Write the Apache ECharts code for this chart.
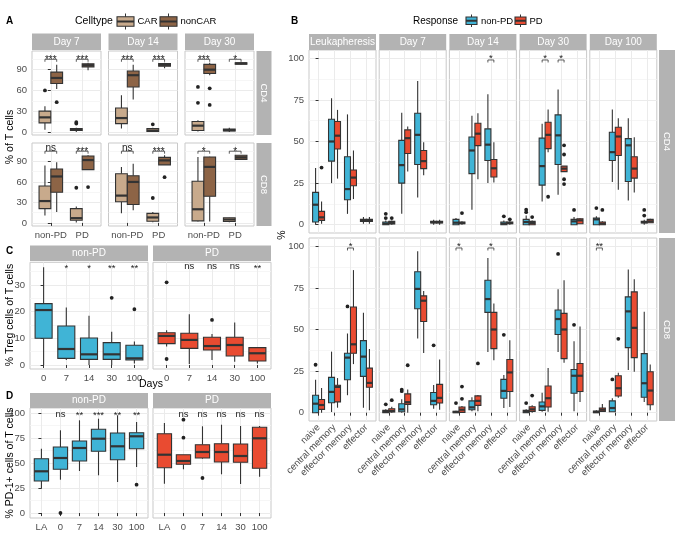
<!DOCTYPE html>
<html>
<head>
<meta charset="utf-8">
<script src="https://cdn.jsdelivr.net/npm/echarts@6/dist/echarts.min.js"></script>
<style>
  html, body { margin: 0; padding: 0; background: #fff; }
  #chart { width: 676px; height: 541px; }
</style>
</head>
<body>
<div id="chart"></div>
<script>
// ---------- data ----------
// boxes are [min, q1, median, q3, max]
// panel A: per day -> [non-PD, PD]
var aDays = ['Day 7', 'Day 14', 'Day 30'];
var aGroups = ['non-PD', 'PD'];
var aCD4CAR = [
  [[3, 13, 21, 30, 37], [0, 2, 3, 5, 6]],
  [[5, 12, 20, 34.5, 53], [0, 0.5, 2, 5, 6]],
  [[0.5, 2, 9, 15, 17], [0, 1.5, 2.5, 4, 6]]
];
var aCD4nonCAR = [
  [[62, 70, 78, 86.5, 97], [89, 94, 96.5, 98.5, 100]],
  [[47, 65, 82, 88, 97], [92, 95, 97, 99, 100]],
  [[82, 84.5, 90, 97.7, 100], [97, 98, 99, 100, 100.5]]
];
var aCD4CAROut = [[[60], [12, 14]], [[], [11]], [[42, 65], []]];
var aCD4nonCAROut = [[[43], []], [[], []], [[39, 63], []]];
var aCD8CAR = [
  [[11, 21, 32, 54, 84], [0.5, 4, 7, 21, 24]],
  [[14, 31, 40, 72, 82], [1, 2.4, 8, 14, 16]],
  [[2, 3, 20, 61, 96.5], [1, 2, 5, 7.5, 8]]
];
var aCD8nonCAR = [
  [[16, 45, 68, 79, 89], [78, 78, 92, 98, 99]],
  [[18.5, 27, 60, 69, 86.5], [85, 85, 91.5, 96, 99]],
  [[2, 39, 82, 96.5, 97], [93, 93, 96, 99, 99]]
];
var aCD8CAROut = [[[], [51.5]], [[], [36.5]], [[], []]];
var aCD8nonCAROut = [[[], [52.5]], [[], [67]], [[], []]];
var aCD4Sig = [['***', '***'], ['***', '***'], ['***', '*']];
var aCD8Sig = [['ns', '***'], ['ns', '***'], ['*', '*']];

// panel C: Treg
var cDays = ['0', '7', '14', '30', '100'];
var cNonPD = [[0, 10, 20.6, 23, 36.6], [1.9, 2.5, 6, 14.6, 21.6], [0, 2.1, 4, 10.1, 18.5], [0, 2.1, 4, 8.4, 12.5], [0.6, 1.9, 2.5, 7.4, 8.8]];
var cNonPDOut = [[], [], [], [25.2], [20.9]];
var cPD = [[6.9, 8, 10.9, 12.1, 13], [0.4, 6.25, 9.4, 11.9, 19], [1.9, 5.6, 7.1, 10.4, 11.6], [1.25, 3.4, 7.5, 10.4, 15.9], [0.6, 1.5, 4.4, 6.5, 6.5]];
var cPDOut = [[31, 2.25], [], [16.9], [], []];
var cSigNonPD = ['', '*', '*', '**', '**'];
var cSigPD = ['', 'ns', 'ns', 'ns', '**'];

// panel D: PD-1+
var dDays = ['LA', '0', '7', '14', '30', '100'];
var dNonPD = [[24.3, 32, 41.7, 54.3, 64.3], [33.3, 43.7, 55, 66, 82.7], [42, 52, 65, 72, 92.7], [37.7, 61.7, 74.3, 83.7, 94.3], [31, 53.3, 66.7, 80, 97.7], [46, 64.3, 76.7, 80.3, 91]];
var dNonPDOut = [[], [0], [], [], [], [28.3]];
var dPD = [[29.3, 45.3, 58.3, 79.3, 90], [43.7, 48.7, 52, 58.3, 58.3], [54.3, 55, 61, 68.3, 86.7], [38.7, 51, 61, 69.3, 88.3], [29, 50.7, 57, 69, 87], [36.3, 44.7, 74.7, 85.7, 87]];
var dPDOut = [[], [93.3, 75.3], [35], [], [], []];
var dSigNonPD = ['', 'ns', '**', '***', '**', '**'];
var dSigPD = ['', 'ns', 'ns', 'ns', 'ns', 'ns'];

// panel B: subsets per timepoint
var bDays = ['Leukapheresis', 'Day 7', 'Day 14', 'Day 30', 'Day 100'];
var bTypes = ['naive', 'central memory', 'effector memory', 'effector'];
var b4NonPD = [
  [[0, 1.6, 12, 19.4, 34], [25, 38.2, 50, 63.4, 76], [6.5, 15, 21.4, 40.8, 66.3], [0.6, 2, 2.6, 3.2, 4.6]],
  [[0, 0, 0.6, 1.6, 2.5], [6.5, 25, 35.8, 50.7, 67.3], [16.4, 36.2, 54, 67, 86.3], [0, 1, 1.5, 2, 3]],
  [[0, 0, 1.2, 3.2, 4], [9, 30.7, 44.6, 52.7, 65.5], [25, 38.6, 48.1, 57.6, 78.4], [0, 0, 0.6, 1.6, 2.5]],
  [[0, 0, 1.6, 3.2, 5.5], [13.9, 23.8, 35.2, 52, 60.6], [18, 36.2, 53.7, 66, 81.2], [0, 0, 2, 3.2, 4.6]],
  [[0, 0, 3.2, 4, 5], [25.7, 38.6, 43.6, 55.6, 69.3], [14.5, 26, 47.7, 51.7, 64], [0, 1, 1.5, 2, 3]]
];
var b4NonPDOut = [
  [[], [], [], []],
  [[6.5, 4], [], [], []],
  [[], [], [], [5]],
  [[9, 7.5], [], [], [8.9]],
  [[10], [], [], [8.9, 5.5]]
];
var b4PD = [
  [[0.6, 2.6, 4.4, 8, 14], [27.7, 45.5, 53.5, 62, 69], [15.4, 23.4, 28.3, 32.9, 44.6], [0.6, 2, 2.6, 3.2, 4.6]],
  [[0, 0.5, 1, 2, 2.5], [31.9, 42.8, 52, 57, 59], [29.7, 33.7, 38.2, 44.6, 49.5], [0, 1, 1.5, 2, 3]],
  [[0, 0.6, 1, 1.6, 2], [27.3, 47.5, 54.7, 61, 67], [25.3, 28.7, 33.9, 39.2, 49.5], [0, 0.6, 1, 1.6, 2]],
  [[0, 0, 1, 2, 2.5], [43.6, 45.7, 54, 61.6, 69.3], [31.9, 31.9, 33.7, 35.2, 35.2], [0.6, 0.6, 2.6, 3.6, 4]],
  [[0, 0, 0.6, 1.6, 2], [21, 41.6, 53, 58.6, 64], [19.4, 28, 33.7, 40.8, 52.5], [1.2, 1.2, 2, 3.2, 3.5]]
];
var b4PDOut = [
  [[34.3], [], [], []],
  [[4], [], [], []],
  [[7], [], [], [3.2]],
  [[4.6], [16.8], [47.7, 42.2, 27.3, 24.4], []],
  [[8.9], [], [], []]
];
var b8NonPD = [
  [[0, 0, 5.4, 10.5, 19.8], [0.4, 6, 12.5, 21.2, 36.7], [10.5, 19.8, 33.1, 35.7, 47.6], [3, 21.8, 33.7, 43.3, 60.1]],
  [[0, 0, 0.5, 1.4, 2], [0, 0.6, 2, 5.4, 8], [44.6, 62.5, 74.4, 84.7, 97], [2.4, 4.8, 7.1, 12.1, 16.7]],
  [[0, 0, 0.4, 0.8, 1.2], [0.8, 1.8, 3.2, 7.1, 9.3], [36.5, 60.3, 68.3, 79.6, 93], [2.8, 8.7, 13.1, 20, 22.6]],
  [[0, 0, 0.6, 1.4, 2], [0.5, 1.4, 3.8, 6.4, 12], [36.5, 47, 56.3, 61.7, 74.2], [0.8, 11.7, 22.2, 26, 42.9]],
  [[0, 0, 0.4, 1, 1.5], [0.6, 0.6, 2.8, 7.1, 8.7], [25.6, 39.1, 60.9, 69.6, 86.1], [6.4, 9.3, 17.7, 35.5, 60.7]]
];
var b8NonPDOut = [
  [[28.8], [], [63.9], []],
  [[5], [13.9, 12.9], [], [40.5]],
  [[5.8], [], [], [46.8]],
  [[5.8], [], [95.4], [52.8]],
  [[], [20], [], []]
];
var b8PD = [
  [[0, 2, 4.6, 7.9, 14.9], [3, 6.5, 15.5, 16.5, 20.8], [29.2, 35.7, 41.1, 63.5, 85.7], [1.4, 15.3, 17.9, 26.8, 38.3]],
  [[0, 0.4, 1, 2.4, 3.5], [0, 5, 6.3, 11.3, 13.9], [35.9, 54.8, 67.3, 70.2, 73.2], [1.8, 5.8, 8.9, 17, 32]],
  [[0, 0.2, 1.8, 3.4, 4], [0.8, 4.4, 7.1, 10.1, 10.7], [31.5, 38.5, 50, 60.3, 65.7], [3.4, 12.7, 24.2, 32, 43.5]],
  [[0, 0.8, 2, 3.6, 4.5], [0.6, 3.4, 8.7, 16, 26.8], [30, 32.5, 50, 59.7, 79.6], [6.4, 12.7, 22.2, 29.6, 51.8]],
  [[0.5, 0.8, 1.8, 2.8, 5.2], [9, 10, 14.7, 22.2, 24], [24.6, 33.1, 51, 72.6, 80.2], [1.4, 4.8, 13.3, 24.6, 29]]
];
var b8PDOut = [
  [[], [], [], []],
  [[7.5], [28.5], [], []],
  [[15.7, 8.3], [29.6], [], []],
  [[10.3], [], [], []],
  [[], [44.4], [], []]
];
var b4Sig = [[], [], [[2, '*']], [[1, '*'], [2, '*']], []];
var b8Sig = [[[2, '*']], [], [[0, '*'], [2, '*']], [], [[0, '**']]];

// ---------- styling ----------
var FONT = 'Liberation Sans, Arial, Helvetica, sans-serif';
var TXT = '#4d4d4d';
var LINE = '#333333';
var STRIP = '#b3b3b3';
var colCAR = '#c8aa8c', colNonCAR = '#8d6446';
var colNonPD = '#40b4d6', colPD = '#e94b31';

var grids = [], xAxes = [], yAxes = [], series = [], graphics = [];

function addPanel(left, top, width, height, cats, yr, ticks, minor, showX, showY, rot) {
  var gi = grids.length;
  var idx = cats.map(function (c, i) { return i; });
  grids.push({
    left: left, top: top, width: width, height: height, show: true,
    backgroundColor: '#ffffff', borderColor: '#c9c9c9', borderWidth: 1,
    containLabel: false, outerBoundsMode: 'none'
  });
  xAxes.push({
    type: 'value', gridIndex: gi, min: -0.6, max: cats.length - 0.4,
    axisLine: { show: false },
    axisTick: { show: showX, customValues: idx, length: 3, lineStyle: { color: LINE } },
    axisLabel: {
      show: showX, customValues: idx, rotate: rot || 0, margin: rot ? 5 : 4,
      color: TXT, fontSize: 9.5, fontFamily: FONT,
      formatter: function (v) { return cats[Math.round(v)]; }
    },
    splitLine: { show: true, lineStyle: { color: '#ebebeb', width: 1 } }
  });
  var yi = yAxes.length;
  yAxes.push({
    type: 'value', gridIndex: gi, min: yr[0], max: yr[1], position: 'left',
    axisLine: { show: false },
    axisTick: { show: showY, customValues: ticks, length: 3, lineStyle: { color: LINE } },
    axisLabel: { show: showY, customValues: ticks, margin: 5, color: TXT, fontSize: 9.5, fontFamily: FONT },
    splitLine: { show: true, lineStyle: { color: '#ebebeb', width: 1 } }
  });
  yAxes.push({
    type: 'value', gridIndex: gi, min: yr[0], max: yr[1], position: 'left',
    axisLine: { show: false },
    axisTick: { show: false, customValues: minor },
    axisLabel: { show: false, customValues: minor },
    splitLine: { show: true, lineStyle: { color: '#f4f4f4', width: 0.8 } }
  });
  return { x: gi, y: yi };
}

function boxSeries(p, boxes, dodge, halfW, color) {
  var data = boxes.map(function (b, i) { return [i].concat(b); });
  return {
    type: 'custom', xAxisIndex: p.x, yAxisIndex: p.y, data: data, silent: true, clip: false,
    renderItem: function (params, api) {
      var x = api.value(0) + dodge;
      var lo = api.coord([x, api.value(1)]);
      var q1 = api.coord([x, api.value(2)]);
      var md = api.coord([x, api.value(3)]);
      var q3 = api.coord([x, api.value(4)]);
      var hi = api.coord([x, api.value(5)]);
      var l = api.coord([x - halfW, 0])[0], r = api.coord([x + halfW, 0])[0];
      var st = { stroke: LINE, lineWidth: 1.1 };
      return {
        type: 'group', children: [
          { type: 'line', shape: { x1: lo[0], y1: lo[1], x2: q1[0], y2: q1[1] }, style: st },
          { type: 'line', shape: { x1: q3[0], y1: q3[1], x2: hi[0], y2: hi[1] }, style: st },
          { type: 'rect', shape: { x: l, y: q3[1], width: r - l, height: Math.max(q1[1] - q3[1], 0.5) },
            style: { fill: color, stroke: LINE, lineWidth: 1.1 } },
          { type: 'line', shape: { x1: l, y1: md[1], x2: r, y2: md[1] }, style: { stroke: LINE, lineWidth: 2.2 } }
        ]
      };
    }
  };
}

function outSeries(p, outs, dodge) {
  var data = [];
  outs.forEach(function (vals, i) { vals.forEach(function (v) { data.push([i, v]); }); });
  return {
    type: 'custom', xAxisIndex: p.x, yAxisIndex: p.y, data: data, silent: true, clip: false,
    renderItem: function (params, api) {
      var c = api.coord([api.value(0) + dodge, api.value(1)]);
      return { type: 'circle', shape: { cx: c[0], cy: c[1], r: 1.9 }, style: { fill: '#222' } };
    }
  };
}

// significance bracket between the two dodged boxes of a category
function bracketSeries(p, items, level, d, fs, starShift) {
  var data = items.map(function (s) { return [s[0], level]; });
  return {
    type: 'custom', xAxisIndex: p.x, yAxisIndex: p.y, data: data, silent: true, clip: false,
    renderItem: function (params, api) {
      var lab = items[params.dataIndex][1];
      var a = api.coord([api.value(0) - d, api.value(1)]);
      var b = api.coord([api.value(0) + d, api.value(1)]);
      var ty = lab.charAt(0) === '*' ? a[1] + starShift : a[1] - 3;
      return {
        type: 'group', children: [
          { type: 'polyline', shape: { points: [[a[0], a[1] + 2.5], [a[0], a[1]], [b[0], b[1]], [b[0], b[1] + 2.5]] },
            style: { stroke: LINE, lineWidth: 0.8, fill: null } },
          { type: 'text', x: (a[0] + b[0]) / 2, y: ty,
            style: { text: lab, fill: '#222', fontSize: fs, fontFamily: FONT, align: 'center', verticalAlign: 'middle' } }
        ]
      };
    }
  };
}

function textSeries(p, labels, level) {
  var data = [], texts = [];
  labels.forEach(function (t, i) { if (t) { data.push([i, level]); texts.push(t); } });
  return {
    type: 'custom', xAxisIndex: p.x, yAxisIndex: p.y, data: data, silent: true, clip: false,
    renderItem: function (params, api) {
      var c = api.coord([api.value(0), api.value(1)]);
      var t = texts[params.dataIndex];
      return { type: 'text', x: c[0], y: t.charAt(0) === '*' ? c[1] + 1.5 : c[1],
        style: { text: t, fill: '#222', fontSize: 9.5, fontFamily: FONT, align: 'center', verticalAlign: 'middle' } };
    }
  };
}

function label(x, y, text, o) {
  o = o || {};
  graphics.push({
    type: 'text', x: x, y: y, rotation: o.rot || 0, silent: true, z: 10,
    style: {
      text: text, fill: o.color || '#000', fontSize: o.size || 10, fontWeight: o.weight || 'normal',
      fontFamily: FONT, align: o.align || 'left', textAlign: o.align || 'left',
      verticalAlign: 'middle', textVerticalAlign: 'middle'
    }
  });
}

function strip(x, y, w, h, text, vertical) {
  graphics.push({ type: 'rect', silent: true, shape: { x: x, y: y, width: w, height: h }, style: { fill: STRIP } });
  label(x + w / 2, y + h / 2, text, { color: '#ffffff', size: vertical ? 9.5 : 10, align: 'center', rot: vertical ? -Math.PI / 2 : 0 });
}

function keyGlyph(x, y, w, h, fill) {
  var cx = x + w / 2, b0 = y + h * 0.2, b1 = y + h * 0.8, m = y + h / 2;
  graphics.push({ type: 'line', silent: true, shape: { x1: cx, y1: y, x2: cx, y2: y + h }, style: { stroke: LINE, lineWidth: 1 } });
  graphics.push({ type: 'rect', silent: true, shape: { x: x, y: b0, width: w, height: b1 - b0 }, style: { fill: fill, stroke: LINE, lineWidth: 1.1 } });
  graphics.push({ type: 'line', silent: true, shape: { x1: x, y1: m, x2: x + w, y2: m }, style: { stroke: LINE, lineWidth: 2 } });
}

// ---------- panel A ----------
var aLefts = [32, 108.5, 185], aW = 69;
var aRange = [-4.5, 117], aTicks = [0, 30, 60, 90], aMinor = [15, 45, 75, 105];
var aDodge = 0.1875;
aDays.forEach(function (day, d) {
  strip(aLefts[d], 33.5, aW, 16.5, day, false);
  var p4 = addPanel(aLefts[d], 51, aW, 84, aGroups, aRange, aTicks, aMinor, false, d === 0, 0);
  var p8 = addPanel(aLefts[d], 143, aW, 83, aGroups, aRange, aTicks, aMinor, true, d === 0, 0);
  series.push(
    boxSeries(p4, aCD4CAR[d], -aDodge, aDodge, colCAR),
    boxSeries(p4, aCD4nonCAR[d], aDodge, aDodge, colNonCAR),
    outSeries(p4, aCD4CAROut[d], -aDodge),
    outSeries(p4, aCD4nonCAROut[d], aDodge),
    bracketSeries(p4, aCD4Sig[d].map(function (s, i) { return [i, s]; }), 105, aDodge, 10, 1),
    boxSeries(p8, aCD8CAR[d], -aDodge, aDodge, colCAR),
    boxSeries(p8, aCD8nonCAR[d], aDodge, aDodge, colNonCAR),
    outSeries(p8, aCD8CAROut[d], -aDodge),
    outSeries(p8, aCD8nonCAROut[d], aDodge),
    bracketSeries(p8, aCD8Sig[d].map(function (s, i) { return [i, s]; }), 105, aDodge, 10, 1)
  );
});
strip(256.5, 51, 15, 84, 'CD4', true);
strip(256.5, 143, 15, 83, 'CD8', true);
label(6, 21, 'A', { weight: 'bold', size: 10 });
label(75, 21, 'Celltype', { size: 10.5 });
keyGlyph(117, 13.5, 17, 16, colCAR);
label(137.5, 21, 'CAR', { size: 9.5 });
keyGlyph(160, 13.5, 17, 16, colNonCAR);
label(180.5, 21, 'nonCAR', { size: 9.5 });
label(10, 137, '% of T cells', { rot: Math.PI / 2, align: 'center', size: 10.5 });

// ---------- panel C ----------
var cLefts = [30, 153], cW = 118;
var cRange = [-1.5, 38.5];
var cGroups = [[cNonPD, cNonPDOut, cSigNonPD, colNonPD, 'non-PD'], [cPD, cPDOut, cSigPD, colPD, 'PD']];
cGroups.forEach(function (g, k) {
  strip(cLefts[k], 245.5, cW, 15.5, g[4], false);
  var p = addPanel(cLefts[k], 262.3, cW, 106.7, cDays, cRange, [0, 10, 20, 30], [5, 15, 25, 35], true, k === 0, 0);
  series.push(boxSeries(p, g[0], 0, 0.375, g[3]), outSeries(p, g[1], 0), textSeries(p, g[2], 36.9));
});
label(6, 251, 'C', { weight: 'bold', size: 10 });
label(10, 315, '% Treg cells of T cells', { rot: Math.PI / 2, align: 'center', size: 10.5 });
label(151, 384, 'Days', { align: 'center', size: 10.5 });

// ---------- panel D ----------
var dGroups = [[dNonPD, dNonPDOut, dSigNonPD, colNonPD, 'non-PD'], [dPD, dPDOut, dSigPD, colPD, 'PD']];
dGroups.forEach(function (g, k) {
  strip(cLefts[k], 393, cW, 15, g[4], false);
  var p = addPanel(cLefts[k], 408, cW, 110, dDays, [-5, 105], [0, 25, 50, 75, 100], [12.5, 37.5, 62.5, 87.5], true, k === 0, 0);
  series.push(boxSeries(p, g[0], 0, 0.375, g[3]), outSeries(p, g[1], 0), textSeries(p, g[2], 99));
});
label(6, 396, 'D', { weight: 'bold', size: 10 });
label(10, 463, '% PD-1+ cells of T cells', { rot: Math.PI / 2, align: 'center', size: 10.5 });

// ---------- panel B ----------
var bW = 67, bDodge = 0.1875;
var bTicks = [0, 25, 50, 75, 100], bMinor = [12.5, 37.5, 62.5, 87.5];
bDays.forEach(function (day, d) {
  var left = 309 + d * 70.2;
  strip(left, 34, bW, 16, day, false);
  var p4 = addPanel(left, 50, bW, 183, bTypes, [-5, 105], bTicks, bMinor, false, d === 0, 0);
  var p8 = addPanel(left, 238, bW, 183, bTypes, [-5, 105], bTicks, bMinor, true, d === 0, 45);
  series.push(
    boxSeries(p4, b4NonPD[d], -bDodge, bDodge, colNonPD),
    boxSeries(p4, b4PD[d], bDodge, bDodge, colPD),
    outSeries(p4, b4NonPDOut[d], -bDodge),
    outSeries(p4, b4PDOut[d], bDodge),
    bracketSeries(p4, b4Sig[d], 99, bDodge, 9.5, -1.5),
    boxSeries(p8, b8NonPD[d], -bDodge, bDodge, colNonPD),
    boxSeries(p8, b8PD[d], bDodge, bDodge, colPD),
    outSeries(p8, b8NonPDOut[d], -bDodge),
    outSeries(p8, b8PDOut[d], bDodge),
    bracketSeries(p8, b8Sig[d], 99, bDodge, 9.5, -1.5)
  );
});
strip(659, 50, 16, 183, 'CD4', true);
strip(659, 238, 16, 183, 'CD8', true);
label(291, 21, 'B', { weight: 'bold', size: 10 });
label(458, 21, 'Response', { align: 'right', size: 10 });
keyGlyph(466, 14.5, 11, 12.5, colNonPD);
label(481, 21, 'non-PD', { size: 9.5 });
keyGlyph(515, 14.5, 11, 12.5, colPD);
label(529.5, 21, 'PD', { size: 9.5 });
label(282, 235, '%', { rot: Math.PI / 2, align: 'center', size: 10.5 });

var chart = echarts.init(document.getElementById('chart'), null, { renderer: 'canvas' });
chart.setOption({
  animation: false,
  backgroundColor: '#ffffff',
  textStyle: { fontFamily: FONT },
  grid: grids,
  xAxis: xAxes,
  yAxis: yAxes,
  series: series,
  graphic: { elements: graphics }
});
</script>
</body>
</html>
